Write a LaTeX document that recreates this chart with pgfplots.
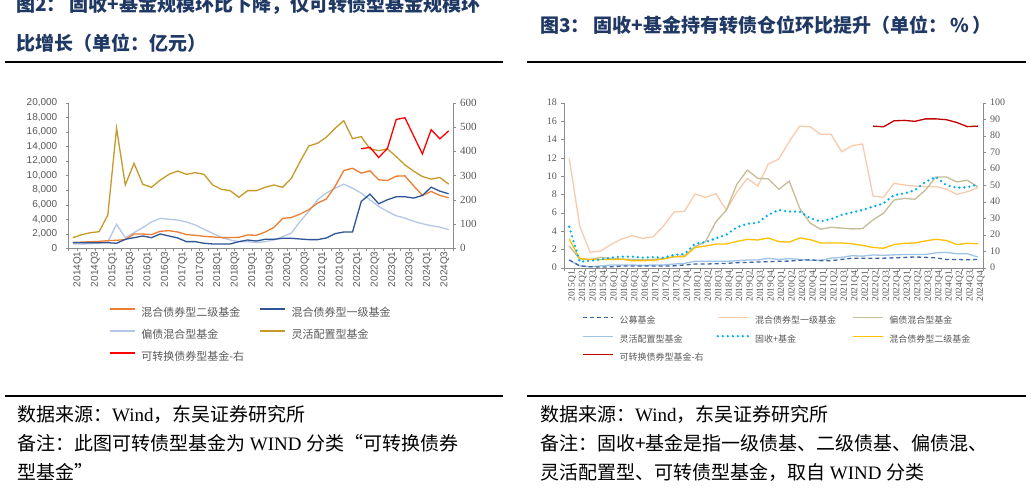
\documentclass[border=0pt]{standalone}
\usepackage{fontspec}
\setmainfont{Liberation Serif}
\newfontfamily\cjk{Noto Sans CJK SC}
\newfontfamily\lsans{Liberation Sans}
\usepackage{pgfplots}
\usepackage{pgfplotstable}
\pgfplotsset{compat=1.18}
\definecolor{titleblue}{HTML}{1F3864}
\definecolor{tickgrey}{HTML}{595959}
\definecolor{axgrey}{HTML}{8C8C8C}
\definecolor{cOr}{HTML}{ED7D31}
\definecolor{cDb}{HTML}{2F5597}
\definecolor{cLb}{HTML}{B4C7E7}
\definecolor{cGo}{HTML}{C59A2A}
\definecolor{cRe}{HTML}{FF0000}
\definecolor{rGm}{HTML}{3A64A8}
\definecolor{rYj}{HTML}{F8CBAD}
\definecolor{rPz}{HTML}{C4BD97}
\definecolor{rLh}{HTML}{9DC3E6}
\definecolor{rGs}{HTML}{00B0F0}
\definecolor{rEj}{HTML}{FFC000}
\definecolor{rRe}{HTML}{C00000}

\pgfplotstableread{
i o db lb g r
0 800 770 600 1450 nan
1 850 770 600 1870 nan
2 900 770 620 2140 nan
3 950 770 700 2280 nan
4 1050 770 900 4575 nan
5 1100 690 3300 16490 nan
6 1200 1240 1460 8700 nan
7 1960 1460 2150 11680 nan
8 1960 1690 2840 8790 nan
9 1880 1460 3620 8380 nan
10 2340 1970 4120 9380 nan
11 2420 1690 3980 10160 nan
12 2240 1420 3890 10620 nan
13 1880 915 3620 10160 nan
14 1790 915 3200 10390 nan
15 1650 690 2610 10160 nan
16 1560 595 2060 8700 nan
17 1470 595 1510 8100 nan
18 1470 595 1140 7920 nan
19 1510 915 915 7000 nan
20 1830 1140 915 7920 nan
21 1790 1000 780 7920 nan
22 2240 1240 915 8380 nan
23 2860 1240 1140 8700 nan
24 4100 1370 1600 8380 nan
25 4230 1370 2080 9600 nan
26 4700 1280 3700 11920 nan
27 5300 1190 5070 14060 nan
28 6210 1190 6670 14430 nan
29 6760 1415 7580 15250 nan
30 8490 2010 8260 16480 nan
31 10680 2240 8810 17530 nan
32 11000 2240 8260 15070 nan
33 10320 6440 7580 15340 410
34 10640 7440 6670 13650 416
35 9410 6120 5750 13420 374
36 9310 6670 5070 13650 412
37 9910 7080 4470 12600 531
38 9950 7080 4150 11460 538
39 8580 6900 3700 10590 463
40 7260 7260 3380 9860 389
41 7810 8400 3100 9500 489
42 7260 7850 2920 9730 451
43 6940 7490 2560 8810 484
}\leftdata

\pgfplotstableread{
i gm yj pz lh gs ej r
0 0.84 11.93 2.36 0.84 4.47 3.13 nan
1 0.2 4.55 0.95 0.2 0.65 1.0 nan
2 0.1 1.67 0.9 0.1 0.75 0.9 nan
3 0.07 1.82 1.13 0.2 0.9 0.9 nan
4 0.1 2.55 1.0 0.3 1.1 0.9 nan
5 0.18 3.13 0.95 0.3 1.2 0.92 nan
6 0.18 3.49 0.9 0.3 1.2 0.76 nan
7 0.18 3.2 0.87 0.25 1.1 0.76 nan
8 0.18 3.38 0.9 0.3 1.15 0.8 nan
9 0.18 4.55 1.0 0.3 1.1 0.95 nan
10 0.2 6.07 1.2 0.4 1.4 1.2 nan
11 0.3 6.15 1.3 0.47 1.5 1.2 nan
12 0.4 8.04 2.29 0.7 2.6 2.2 nan
13 0.4 7.67 2.84 0.7 2.8 2.36 nan
14 0.44 8.07 5.0 0.7 3.2 2.58 nan
15 0.47 6.29 6.29 0.7 3.6 2.58 nan
16 0.55 8.25 9.1 0.76 4.4 2.87 nan
17 0.58 9.74 10.65 0.84 4.8 3.09 nan
18 0.62 8.9 9.74 0.84 4.9 3.02 nan
19 0.65 11.3 9.7 1.02 5.76 3.24 nan
20 0.7 11.86 8.55 0.9 6.3 2.85 nan
21 0.72 13.75 9.45 0.99 6.12 2.79 nan
22 0.81 15.45 6.48 0.9 6.12 3.24 nan
23 0.86 15.38 4.86 0.81 5.4 3.06 nan
24 0.77 14.55 4.2 0.81 5.04 2.7 nan
25 0.76 14.55 4.41 1.04 5.31 2.7 nan
26 0.9 12.65 4.32 1.13 5.76 2.7 nan
27 1.04 13.3 4.23 1.31 6.03 2.61 nan
28 1.04 13.5 4.27 1.26 6.3 2.43 nan
29 1.04 7.82 5.22 1.39 6.66 2.21 85.8
30 1.04 7.67 5.94 1.35 7.02 2.12 85.4
31 1.08 9.2 7.38 1.4 7.92 2.52 89.0
32 1.12 9.02 7.56 1.44 8.1 2.66 89.3
33 1.17 8.91 7.47 1.44 8.46 2.7 88.7
34 1.13 8.84 8.46 1.44 9.36 2.92 90.2
35 1.08 8.84 9.9 1.62 9.9 3.1 90.2
36 0.9 8.58 9.9 1.67 9.0 2.97 89.7
37 0.9 8.0 9.36 1.53 8.73 2.52 88.0
38 0.86 8.29 9.54 1.53 8.77 2.66 85.5
39 0.9 8.73 8.82 1.17 9.09 2.61 85.8
}\rightdata

\begin{document}
\begin{tikzpicture}
\path[use as bounding box] (0pt,0pt) rectangle (1032pt,491pt);
\clip (0pt,0pt) rectangle (1032pt,491pt);
\fill[white] (0pt,0pt) rectangle (1032pt,491pt);

% titles
\node[anchor=west, inner sep=0pt, text=titleblue, font=\cjk\bfseries\fontsize{19}{19}\selectfont] at (16pt,486pt) {图2：\hspace{4pt}固收+基金规模环比下降，仅可转债型基金规模环};
\node[anchor=west, inner sep=0pt, text=titleblue, font=\cjk\bfseries\fontsize{19}{19}\selectfont] at (16pt,448pt) {比增长（单位：亿元）};
\node[anchor=west, inner sep=0pt, text=titleblue, font=\cjk\bfseries\fontsize{19}{19}\selectfont] at (540pt,466pt) {图3：\hspace{4pt}固收+基金持有转债仓位环比提升（单位：\,\%\,）};
\draw[line width=2pt] (5pt,429pt) -- (503pt,429pt);
\draw[line width=2pt] (527pt,429pt) -- (1026pt,429pt);
\draw[line width=2pt] (5pt,95pt) -- (503pt,95pt);
\draw[line width=2pt] (527pt,95pt) -- (1026pt,95pt);

% footnotes
\begin{scope}[every node/.style={anchor=west, inner sep=0pt, font=\fontsize{19}{19}\selectfont}]
\node at (17pt,77pt) {{\cjk 数据来源：}Wind{\cjk ，东吴证券研究所}};
\node at (17pt,48pt) {{\cjk 备注：此图可转债型基金为} WIND {\cjk 分类“可转换债券}};
\node at (17pt,19pt) {{\cjk 型基金”}};
\node at (540pt,77pt) {{\cjk 数据来源：}Wind{\cjk ，东吴证券研究所}};
\node at (540pt,48pt) {{\cjk 备注：固收+基金是指一级债基、二级债基、偏债混、}};
\node at (540pt,19pt) {{\cjk 灵活配置型、可转债型基金，取自} WIND {\cjk 分类}};
\end{scope}

% ===== left chart =====
\begin{axis}[
  at={(68.5pt,242.7pt)}, anchor=south west, width=384.5pt, height=145.6pt, scale only axis,
  xmin=-0.5, xmax=43.5, ymin=0, ymax=20000,
  axis x line*=bottom, axis y line*=left,
  axis line style={-, draw=axgrey},
  tick align=outside, major tick length=3pt, minor tick length=3pt,
  ytick={0,2000,...,20000}, scaled y ticks=false,
  xtick={0,2,...,42},
  xticklabels={2014Q1,2014Q3,2015Q1,2015Q3,2016Q1,2016Q3,2017Q1,2017Q3,2018Q1,2018Q3,2019Q1,2019Q3,2020Q1,2020Q3,2021Q1,2021Q3,2022Q1,2022Q3,2023Q1,2023Q3,2024Q1,2024Q3},
  minor xtick={-0.5,0.5,...,43.5},
  major x tick style={draw=none},
  minor x tick style={draw=axgrey},
  y tick style={draw=axgrey},
  xticklabel style={rotate=90, anchor=east, inner sep=0pt, font=\lsans\fontsize{10}{12}\selectfont, text=tickgrey, yshift=-5pt},
  yticklabel style={font=\lsans\fontsize{10}{12}\selectfont, text=tickgrey, inner sep=0pt, xshift=-8pt},
  /pgf/number format/1000 sep={,},
  /pgf/number format/assume math mode=true,
  clip=false,
]
\addplot[cGo, line width=1.3pt] table[x=i,y=g]{\leftdata};
\addplot[cLb, line width=1.3pt] table[x=i,y=lb]{\leftdata};
\addplot[cOr, line width=1.3pt] table[x=i,y=o]{\leftdata};
\addplot[cDb, line width=1.3pt] table[x=i,y=db]{\leftdata};
\end{axis}
\begin{axis}[
  at={(68.5pt,242.7pt)}, anchor=south west, width=384.5pt, height=145.6pt, scale only axis,
  xmin=-0.5, xmax=43.5, ymin=0, ymax=600,
  axis x line=none, axis y line*=right,
  axis line style={-, draw=axgrey},
  tick align=outside, major tick length=3pt,
  y tick style={draw=axgrey},
  ytick={0,100,...,600},
  yticklabel style={font=\fontsize{11}{12}\selectfont, text=tickgrey, inner sep=0pt, xshift=4pt},
  /pgf/number format/assume math mode=true,
  unbounded coords=jump,
  legend style={draw=none, fill=none, at={(0.105,-0.404)}, anchor=north west, legend columns=2,
    font=\cjk\fontsize{11}{12}\selectfont, text=tickgrey, inner sep=0pt,
    nodes={inner sep=0pt, text width=112pt, align=left, text height=9pt, text depth=2.5pt},
    /tikz/every odd column/.append style={column sep=6pt},
    /tikz/every even column/.append style={column sep=6pt},
    row sep=10.5pt},
  legend image code/.code={\draw[#1] (0pt,4pt) -- (25pt,4pt);},
]
\addlegendimage{cOr, line width=1.3pt}\addlegendentry{混合债券型二级基金}
\addlegendimage{cDb, line width=1.3pt}\addlegendentry{混合债券型一级基金}
\addlegendimage{cLb, line width=1.3pt}\addlegendentry{偏债混合型基金}
\addlegendimage{cGo, line width=1.3pt}\addlegendentry{灵活配置型基金}
\addplot[cRe, line width=1.3pt] table[x=i,y=r]{\leftdata};
\addlegendentry{可转换债券型基金-右}
\end{axis}

% ===== right chart =====
\begin{axis}[
  at={(564pt,223.3pt)}, anchor=south west, width=419pt, height=165pt, scale only axis,
  xmin=-0.5, xmax=39.5, ymin=0, ymax=18,
  axis x line*=bottom, axis y line*=left,
  axis line style={-, draw=axgrey},
  tick align=outside, major tick length=3pt, minor tick length=3pt,
  ytick={0,2,...,18},
  xtick={0,...,39},
  xticklabels={2015Q1,2015Q2,2015Q3,2015Q4,2016Q1,2016Q2,2016Q3,2016Q4,2017Q1,2017Q2,2017Q3,2017Q4,2018Q1,2018Q2,2018Q3,2018Q4,2019Q1,2019Q2,2019Q3,2019Q4,2020Q1,2020Q2,2020Q3,2020Q4,2021Q1,2021Q2,2021Q3,2021Q4,2022Q1,2022Q2,2022Q3,2022Q4,2023Q1,2023Q2,2023Q3,2023Q4,2024Q1,2024Q2,2024Q3,2024Q4},
  minor xtick={-0.5,0.5,...,39.5},
  major x tick style={draw=none},
  minor x tick style={draw=axgrey},
  y tick style={draw=axgrey},
  xticklabel style={rotate=90, anchor=east, inner sep=0pt, font=\fontsize{9.5}{10}\selectfont, text=tickgrey, yshift=-3pt},
  yticklabel style={font=\fontsize{10}{12}\selectfont, text=tickgrey, inner sep=0pt, xshift=-4pt},
  /pgf/number format/assume math mode=true,
  clip=false,
]
\addplot[rYj, line width=1.3pt] table[x=i,y=yj]{\rightdata};
\addplot[rPz, line width=1.3pt] table[x=i,y=pz]{\rightdata};
\addplot[rLh, line width=1.3pt] table[x=i,y=lh]{\rightdata};
\addplot[rEj, line width=1.3pt] table[x=i,y=ej]{\rightdata};
\addplot[rGm, line width=1.3pt, dash pattern=on 4pt off 3pt] table[x=i,y=gm]{\rightdata};
\addplot[rGs, line width=2.6pt, line cap=round, dash pattern=on 0pt off 5pt] table[x=i,y=gs]{\rightdata};
\end{axis}
\begin{axis}[
  at={(564pt,223.3pt)}, anchor=south west, width=419pt, height=165pt, scale only axis,
  xmin=-0.5, xmax=39.5, ymin=0, ymax=100,
  axis x line=none, axis y line*=right,
  axis line style={-, draw=axgrey},
  tick align=outside, major tick length=3pt,
  y tick style={draw=axgrey},
  ytick={0,10,...,100},
  yticklabel style={font=\fontsize{10}{12}\selectfont, text=tickgrey, inner sep=0pt, xshift=4pt},
  /pgf/number format/assume math mode=true,
  unbounded coords=jump,
  legend style={draw=none, fill=none, at={(0.043,-0.293)}, anchor=north west, legend columns=3,
    font=\cjk\fontsize{9}{10}\selectfont, text=tickgrey, inner sep=0pt,
    nodes={inner sep=0pt, text width=91pt, align=left, text height=7.5pt, text depth=2pt},
    /tikz/every odd column/.append style={column sep=6pt},
    /tikz/every even column/.append style={column sep=6pt},
    row sep=9pt},
  legend image code/.code={\draw[#1] (0pt,3.3pt) -- (30pt,3.3pt);},
]
\addlegendimage{rGm, line width=1.3pt, dash pattern=on 4pt off 3pt}\addlegendentry{公募基金}
\addlegendimage{rYj, line width=1.3pt}\addlegendentry{混合债券型一级基金}
\addlegendimage{rPz, line width=1.3pt}\addlegendentry{偏债混合型基金}
\addlegendimage{rLh, line width=1.3pt}\addlegendentry{灵活配置型基金}
\addlegendimage{rGs, line width=2.6pt, line cap=round, dash pattern=on 0pt off 5pt}\addlegendentry{固收+基金}
\addlegendimage{rEj, line width=1.3pt}\addlegendentry{混合债券型二级基金}
\addplot[rRe, line width=1.3pt] table[x=i,y=r]{\rightdata};
\addlegendentry{可转换债券型基金-右}
\end{axis}
\end{tikzpicture}
\end{document}
